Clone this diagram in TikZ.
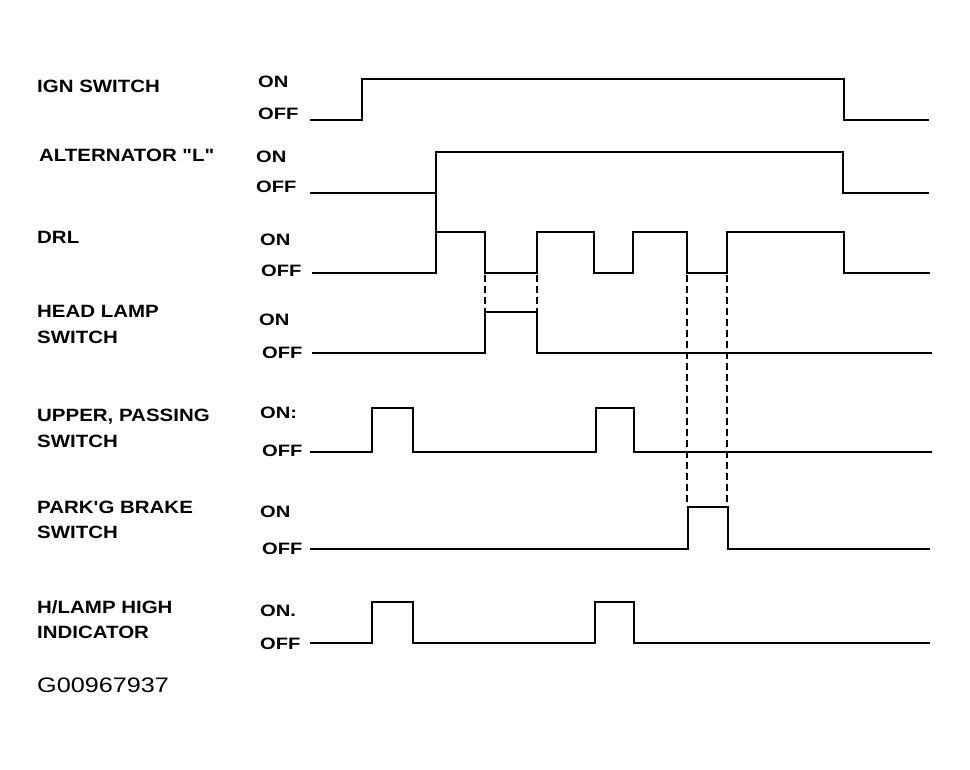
\documentclass[tikz,border=0pt]{standalone}
\usepackage{fontspec}
\setmainfont{Liberation Sans}
\newfontfamily\plainsans{Liberation Sans}
\newcommand\lblfont{\plainsans\fontsize{17.8}{20}\selectfont\bfseries}
\newcommand\stfont{\plainsans\fontsize{16.5}{18}\selectfont\bfseries}
\newcommand\idfont{\plainsans\fontsize{21}{23}\selectfont}
\newcommand\wideA[1]{\scalebox{1.15}[1]{#1}}
\newcommand\wideB[1]{\scalebox{1.22}[1]{#1}}
\tikzset{
  lbl/.style={anchor=base west, inner sep=0pt, font=\lblfont},
  st/.style={anchor=base west, inner sep=0pt, font=\stfont},
  wave/.style={line width=2.6pt, line join=miter, line cap=butt},
  guide/.style={line width=1.9pt, dash pattern=on 7pt off 4pt},
}
\begin{document}
\begin{tikzpicture}[x=1pt,y=-1pt]
\useasboundingbox[fill=white] (0,0) rectangle (970,770);

% left labels
\node[lbl] (ign) at (37,93) {\wideA{IGN SWITCH}};
\node[lbl] (alt) at (39,162) {\wideA{ALTERNATOR "L"}};
\node[lbl] (drl) at (37,244) {\wideA{DRL}};
\node[lbl] (headA) at (37,317) {\wideA{HEAD LAMP}};
\node[lbl] (headB) at (37,343) {\wideA{SWITCH}};
\node[lbl] (upA) at (37,421) {\wideA{UPPER, PASSING}};
\node[lbl] (upB) at (37,447) {\wideA{SWITCH}};
\node[lbl] (parkA) at (37,513) {\wideA{PARK'G BRAKE}};
\node[lbl] (parkB) at (37,538) {\wideA{SWITCH}};
\node[lbl] (hlA) at (37,613) {\wideA{H/LAMP HIGH}};
\node[lbl] (hlB) at (37,638) {\wideA{INDICATOR}};
\node[anchor=base west, inner sep=0pt, font=\idfont] (gid) at (37,692) {\scalebox{1.2}[1]{G00967937}};

% ON / OFF labels
\node[st] (on1) at (258,88) {\wideB{ON}};
\node[st] (off1) at (258,120) {\wideB{OFF}};
\node[st] (on2) at (256,163) {\wideB{ON}};
\node[st] (off2) at (256,193) {\wideB{OFF}};
\node[st] (on3) at (260,246) {\wideB{ON}};
\node[st] (off3) at (261,277) {\wideB{OFF}};
\node[st] (on4) at (259,326) {\wideB{ON}};
\node[st] (off4) at (262,358) {\wideB{OFF}};
\node[st] (on5) at (260,418) {\wideB{ON:}};
\node[st] (off5) at (262,456) {\wideB{OFF}};
\node[st] (on6) at (260,517) {\wideB{ON}};
\node[st] (off6) at (262,554) {\wideB{OFF}};
\node[st] (on7) at (260,616) {\wideB{ON.}};
\node[st] (off7) at (260,649) {\wideB{OFF}};

% waveforms
\draw[wave] (310,120) -| (362,79) -| (844,120) -- (929,120);
\draw[wave] (310,193) -| (436,152) -| (843,193) -- (929,193);
\draw[wave] (436,193) -- (436,232);
\draw[wave] (312,273) -| (436,232) -| (485,273) -| (537,232) -| (594,273) -| (633,232) -| (687,273) -| (727,232) -| (844,273) -- (930,273);
\draw[wave] (312,353) -| (485,312) -| (537,353) -- (932,353);
\draw[wave] (310,452) -| (372,408) -| (413,452) -| (596,408) -| (634,452) -- (932,452);
\draw[wave] (310,549) -| (688,507) -| (728,549) -- (930,549);
\draw[wave] (310,643) -| (372,602) -| (413,643) -| (595,602) -| (634,643) -- (930,643);

% guide lines
\draw[guide] (485,275) -- (485,311);
\draw[guide] (537,275) -- (537,311);
\draw[guide] (687,275) -- (687,506);
\draw[guide] (727,275) -- (727,506);
\end{tikzpicture}
\end{document}
